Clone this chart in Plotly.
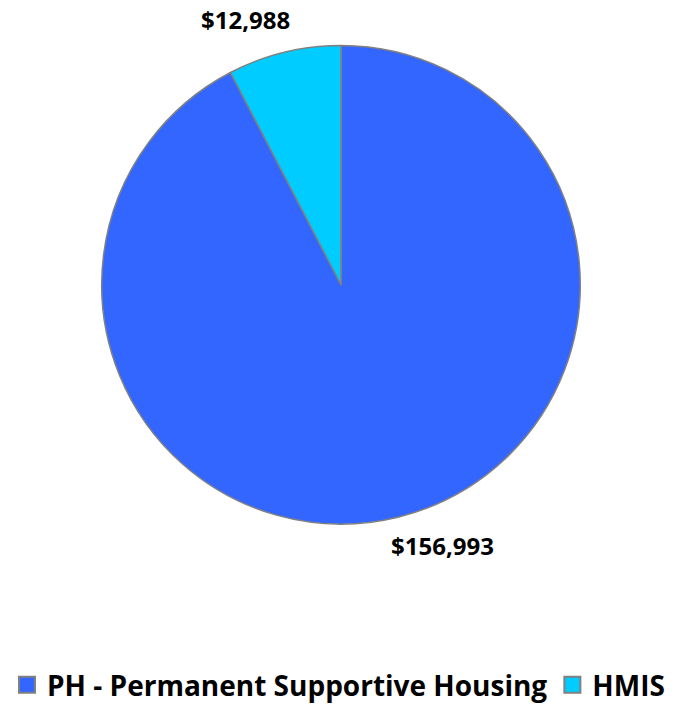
import plotly.graph_objects as go

categories = ["PH - Permanent Supportive Housing", "HMIS"]
values = [156993, 12988]
colors = ["#3366FF", "#00CCFF"]

# label anchor positions (paper coords) for the value labels
label_pos = [(442 / 677, 1 - 552 / 710), (245 / 677, 1 - 20 / 710)]

FONT = "Open Sans"

fig = go.Figure()
fig.add_trace(go.Pie(
    labels=categories,
    values=values,
    sort=False,
    direction="clockwise",
    rotation=0,
    marker=dict(colors=colors, line=dict(color="#808080", width=1.5)),
    textinfo="none",
    hoverinfo="label+value",
    domain=dict(x=[99 / 677, 583 / 677], y=[1 - 530 / 710, 1 - 46 / 710]),
    showlegend=False,
))

# legend entries
for cat, col in zip(categories, colors):
    fig.add_trace(go.Scatter(
        x=[None], y=[None], mode="markers", name=cat,
        marker=dict(symbol="square", size=16, color=col,
                    line=dict(color="#808080", width=2)),
        showlegend=True, hoverinfo="skip",
    ))

for v, (px, py) in zip(values, label_pos):
    fig.add_annotation(
        x=px, y=py, xref="paper", yref="paper",
        text=f"${v:,.0f}", showarrow=False,
        xanchor="center", yanchor="middle",
        font=dict(family=FONT, size=24, color="#000000", weight="bold"),
    )

fig.update_layout(
    width=677, height=710,
    margin=dict(l=0, r=0, t=0, b=0),
    paper_bgcolor="white",
    plot_bgcolor="white",
    xaxis=dict(visible=False),
    yaxis=dict(visible=False),
    font=dict(family=FONT, color="#000000"),
    legend=dict(
        orientation="h",
        x=0.5, xanchor="center",
        y=1 - 693 / 710, yanchor="middle",
        font=dict(family=FONT, size=28, color="#000000", weight="bold"),
        itemsizing="trace",
        itemwidth=30,
        tracegroupgap=0,
    ),
)
fig.write_html("out.html", config={"displayModeBar": False},
               post_script="document.body.style.margin='0';")
